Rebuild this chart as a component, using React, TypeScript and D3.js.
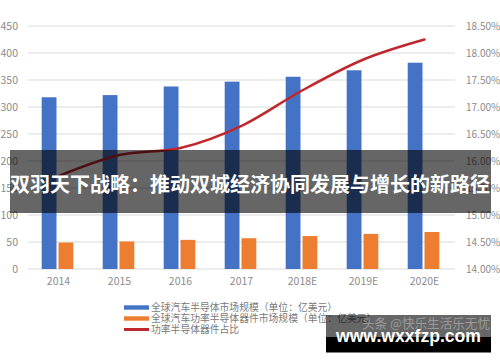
import * as d3 from "d3";

const categories = ["2014", "2015", "2016", "2017", "2018E", "2019E", "2020E"];
const marketSize = [318, 322, 338, 347, 356, 368, 382];
const powerSize = [49, 51, 54, 57, 61, 65, 68.5];
const powerShare = [15.72, 16.11, 16.24, 16.65, 17.31, 17.88, 18.25];
const leftTicks = [0, 50, 100, 150, 200, 250, 300, 350, 400, 450];
const rightTicks = [14, 14.5, 15, 15.5, 16, 16.5, 17, 17.5, 18, 18.5];
const legendLabels = [
  "全球汽车半导体市场规模（单位：亿美元）",
  "全球汽车功率半导体器件市场规模（单位：亿美元）",
  "功率半导体器件占比",
];
const bannerText = "双羽天下战略：推动双城经济协同发展与增长的新路径";

const BLUE = "#4472C4";
const ORANGE = "#ED7D31";
const RED = "#C0272D";
const FONT = "'Noto Sans CJK SC', 'Noto Sans', sans-serif";

const App = () => {
  const width = 500;
  const height = 362;
  const plot = { left: 28, right: 455, top: 26, bottom: 269 };

  const x = d3.scaleBand().domain(categories).range([plot.left, plot.right]);
  const inner = d3
    .scaleBand()
    .domain(["a", "b"])
    .range([13.7, 45.3])
    .paddingInner(0.12);
  const yLeft = d3.scaleLinear().domain([0, 450]).range([plot.bottom, plot.top]);
  const yRight = d3.scaleLinear().domain([14, 18.5]).range([plot.bottom, plot.top]);

  const line = d3
    .line<number>()
    .x((_, i) => x(categories[i])! + x.bandwidth() / 2)
    .y((d) => yRight(d))
    .curve(d3.curveMonotoneX);

  const legendColors = [BLUE, ORANGE, RED];

  return (
    <svg
      width={width}
      height={height}
      style={{ position: "absolute", left: 0, top: 0, background: "#fff" }}
      fontFamily={FONT}
    >
      {/* gridlines */}
      {leftTicks.map((t) => (
        <line
          key={t}
          x1={plot.left}
          x2={plot.right}
          y1={yLeft(t)}
          y2={yLeft(t)}
          stroke="#d9d9d9"
          strokeWidth={1}
        />
      ))}
      {/* left axis labels */}
      {leftTicks.map((t) => (
        <text
          key={t}
          x={18}
          y={yLeft(t)}
          dy="0.35em"
          textAnchor="end"
          fontSize={10.5}
          fill="#8c8c8c"
        >
          {t}
        </text>
      ))}
      {/* right axis labels */}
      {rightTicks.map((t) => (
        <text
          key={t}
          x={466}
          y={yRight(t)}
          dy="0.35em"
          fontSize={10}
          fill="#8c8c8c"
        >
          {t.toFixed(2) + "%"}
        </text>
      ))}
      {/* bars */}
      {categories.map((c, i) => (
        <g key={c} transform={`translate(${x(c)},0)`}>
          <rect
            x={inner("a")}
            y={yLeft(marketSize[i])}
            width={inner.bandwidth()}
            height={plot.bottom - yLeft(marketSize[i])}
            fill={BLUE}
          />
          <rect
            x={inner("b")}
            y={yLeft(powerSize[i])}
            width={inner.bandwidth()}
            height={plot.bottom - yLeft(powerSize[i])}
            fill={ORANGE}
          />
          <text
            x={x.bandwidth() / 2}
            y={281}
            dy="0.35em"
            textAnchor="middle"
            fontSize={10.5}
            fill="#8c8c8c"
          >
            {c}
          </text>
        </g>
      ))}
      {/* share line */}
      <path
        d={line(powerShare)!}
        fill="none"
        stroke={RED}
        strokeWidth={2.5}
        strokeLinejoin="round"
        strokeLinecap="round"
      />
      {/* legend */}
      {legendLabels.map((l, i) => (
        <g key={l} transform={`translate(124,${307.5 + i * 11})`}>
          <rect
            x={0}
            y={i === 2 ? -1.5 : -2.2}
            width={25}
            height={i === 2 ? 3 : 4.4}
            fill={legendColors[i]}
          />
          <text x={27} y={0} dy="0.35em" fontSize={9.8} fill="#7a7a7a">
            {l}
          </text>
        </g>
      ))}
      {/* overlay banner */}
      <rect x={10} y={150} width={481} height={63} fill="rgba(0,0,0,0.6)" />
      <text
        x={250}
        y={185}
        dy="0.35em"
        textAnchor="middle"
        fontSize={20}
        fontWeight={700}
        fill="#fff"
        textLength={480}
        lengthAdjust="spacingAndGlyphs"
      >
        {bannerText}
      </text>
      {/* watermark */}
      <rect x={326} y={315} width={165} height={22} fill="rgba(0,0,0,0.6)" />
      <text
        x={362}
        y={323}
        dy="0.35em"
        fontSize={13}
        fill="#9a9a9a"
        textLength={128}
        lengthAdjust="spacingAndGlyphs"
      >
        头条 @快乐生活乐无忧
      </text>
      <rect x={326} y={337} width={165} height={15.5} fill="#000" />
      <text
        x={336}
        y={342}
        fontSize={19}
        fontWeight={700}
        fill="#fff"
        fontFamily="'Liberation Sans', Arial, sans-serif"
        textLength={145}
        lengthAdjust="spacingAndGlyphs"
      >
        www.wxxfzp.com
      </text>
    </svg>
  );
};

export default App;
